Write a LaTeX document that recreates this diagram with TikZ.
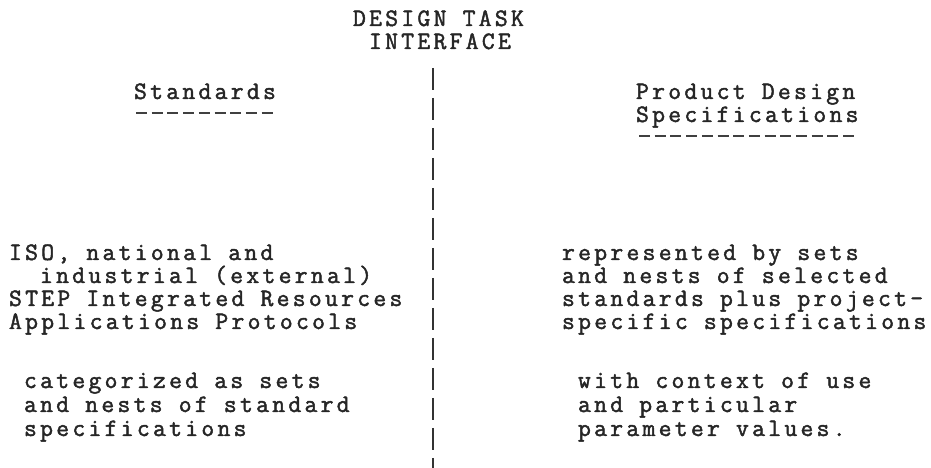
\documentclass[tikz,border=0pt]{standalone}
\usepackage{fontspec}
\setmonofont[LetterSpace=13,FakeBold=1.8]{Latin Modern Mono}
\begin{document}
\begin{tikzpicture}[x=1pt,y=1pt,
  tw/.style={anchor=base west,inner sep=0pt,outer sep=0pt,font=\ttfamily\fontsize{25}{26}\selectfont,text=black!85},
  rule/.style={line width=1.1pt,black!75,dash pattern=on 11pt off 4.7pt},
  divider/.style={line width=1.2pt,black!80,dash pattern=on 22pt off 8pt}]
\useasboundingbox (0,0) rectangle (931,468);
% title
\node[tw] (t1) at (353,{468-26}) {DESIGN TASK};
\node[tw] (t2) at (369,{468-49}) {INTERFACE};
% headings
\node[tw] (hl) at (134,{468-99}) {Standards};
\node[tw] (hr1) at (636,{468-99}) {Product Design};
\node[tw] (hr2) at (636,{468-122}) {Specifications};
\coordinate (ul1) at (136,{468-113});
\coordinate (ul2) at (274,{468-113});
\coordinate (ur1) at (639,{468-136});
\coordinate (ur2) at (857,{468-136});
\draw[rule] (ul1) -- (ul2);
\draw[rule] (ur1) -- (ur2);
% divider
\coordinate (dtop) at (433,{468-68});
\coordinate (dbot) at (433,0);
\draw[divider] (dtop) -- (dbot);
% left column
\node[tw] (l1) at (9,{468-260}) {ISO, national and};
\node[tw] (l2) at (40,{468-283}) {industrial (external)};
\node[tw] (l3) at (9,{468-306}) {STEP Integrated Resources};
\node[tw] (l4) at (9,{468-329}) {Applications Protocols};
\node[tw] (l5) at (24,{468-388}) {categorized as sets};
\node[tw] (l6) at (24,{468-412}) {and nests of standard};
\node[tw] (l7) at (24,{468-436}) {specifications};
% right column
\node[tw] (r1) at (562,{468-260}) {represented by sets};
\node[tw] (r2) at (562,{468-283}) {and nests of selected};
\node[tw] (r3) at (562,{468-306}) {standards plus project-};
\node[tw] (r4) at (562,{468-329}) {specific specifications};
\node[tw] (r5) at (578,{468-388}) {with context of use};
\node[tw] (r6) at (578,{468-412}) {and particular};
\node[tw] (r7) at (578,{468-436}) {parameter values.};
\end{tikzpicture}
\end{document}
